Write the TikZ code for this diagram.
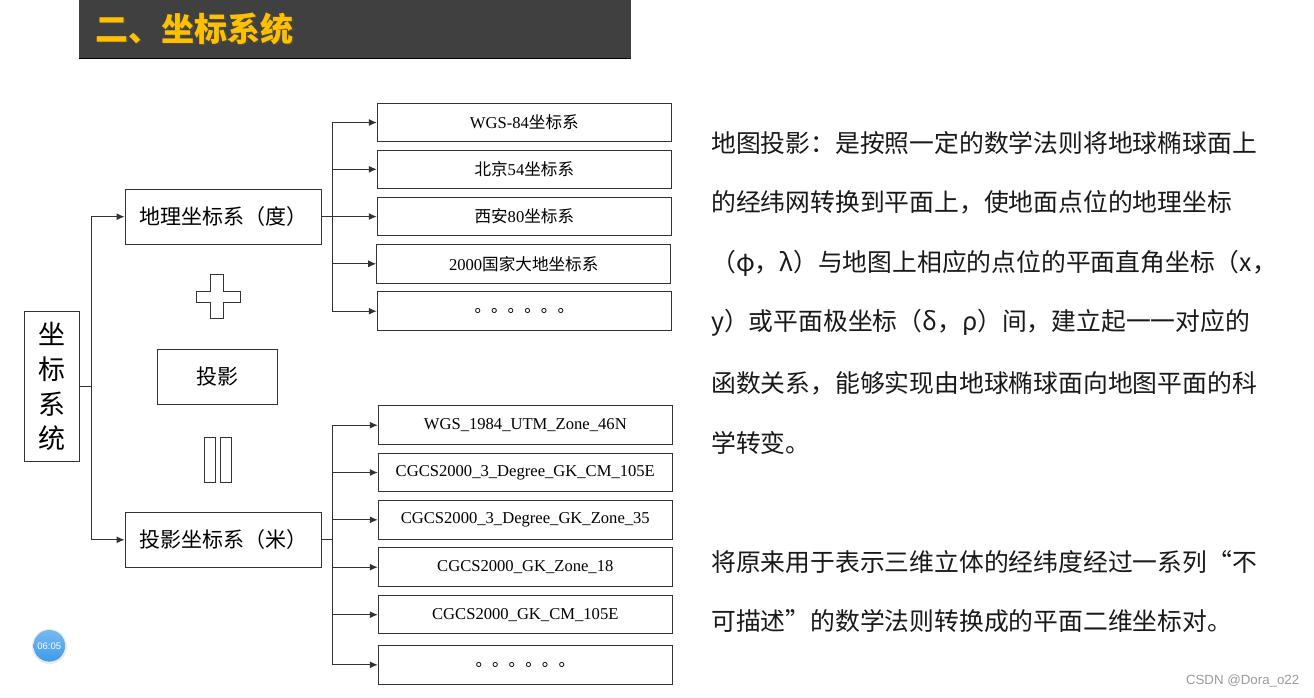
\documentclass[tikz,border=0pt]{standalone}
\usepackage{fontspec}
\setmainfont{Liberation Serif}
\newfontfamily\cjk{Noto Sans CJK SC}
\newfontfamily\lsans{Liberation Sans}
\usetikzlibrary{arrows.meta}
\definecolor{titlebg}{HTML}{404040}
\definecolor{titlefg}{HTML}{FFC000}
\definecolor{linec}{HTML}{333333}
\definecolor{wm}{HTML}{9A9A9A}
\definecolor{badge}{HTML}{3E9BEA}
\tikzset{
  box/.style={draw=linec, line width=1pt, inner sep=0pt, fill=white},
  gbox/.style={box, minimum width=294pt, minimum height=38.5pt, font=\fontsize{16.6}{18}\selectfont},
  midbox/.style={box, minimum width=196pt, minimum height=55pt, font=\cjk\fontsize{21}{23}\selectfont},
  arr/.style={draw=linec, line width=1pt, -{Latex[length=8pt,width=7pt]}},
  ln/.style={draw=linec, line width=1pt},
  para/.style={anchor=west, inner sep=0pt, font=\cjk\fontsize{24.8}{26}\selectfont, text=black!90},
  sym/.style={draw=linec, line width=1pt, fill=white}
}
\newcommand{\zh}[1]{{\cjk #1}}
\begin{document}
\begin{tikzpicture}[x=1pt,y=-1pt]
\useasboundingbox[fill=white] (0,0) rectangle (1314,697);

% title bar
\fill[titlebg] (79,0) rectangle (631,58);
\draw[black, line width=1pt] (79,58) -- (631,58);
\node[anchor=west, inner sep=0pt, text=black!70, font=\cjk\bfseries\fontsize{33}{36}\selectfont] at (96.8,29.8) {二、坐标系统};
\node[anchor=west, inner sep=0pt, text=titlefg, font=\cjk\bfseries\fontsize{33}{36}\selectfont] (title) at (95.5,28.5) {二、坐标系统};

% root box
\node[box, minimum width=55pt, minimum height=150pt, align=center, font=\cjk\fontsize{27}{34.7}\selectfont] (root) at (51.8,386.7) {坐\\标\\系\\统};

% middle boxes
\node[midbox] (geo) at (223,216.7) {地理坐标系（度）};
\node[midbox] (proj) at (223,539.8) {投影坐标系（米）};
\node[box, minimum width=120pt, minimum height=55pt, font=\cjk\fontsize{21}{23}\selectfont] (tou) at (217.7,376.7) {投影};

% plus sign
\draw[sym] (210,274.5) -- (223.3,274.5) -- (223.3,291) -- (240,291) -- (240,302.3) -- (223.3,302.3) -- (223.3,318.8) -- (210,318.8) -- (210,302.3) -- (196,302.3) -- (196,291) -- (210,291) -- cycle;
% equals (vertical)
\draw[sym] (204.3,437.3) rectangle (215,482);
\draw[sym] (220,437.3) rectangle (231.7,482);

% root connectors
\coordinate (j1) at (91.7,386.7);
\draw[ln] (root.east) -- (j1);
\draw[arr] (j1) |- (geo.west);
\draw[arr] (j1) |- (proj.west);

% top boxes
\node[gbox] (g1) at (524.3,122.5) {WGS-84\zh{坐标系}};
\node[gbox] (g2) at (524.3,169.3) {\zh{北京}54\zh{坐标系}};
\node[gbox] (g3) at (524.3,216.6) {\zh{西安}80\zh{坐标系}};
\node[gbox] (g4) at (523.7,263.8) {2000\zh{国家大地坐标系}};
\node[gbox] (g5) at (524.3,311.2) {\zh{。。。。。。}};

\coordinate (j2) at (332.7,216.7);
\draw[ln] (geo.east) -- (j2);
\draw[ln] (332.7,122.5) -- (332.7,311.2);
\foreach \n in {g1,g2,g3,g4,g5} \draw[arr] (j2) |- (\n.west);

% bottom boxes
\node[gbox] (p1) at (525.3,425.2) {WGS\_1984\_UTM\_Zone\_46N};
\node[gbox] (p2) at (525.3,472.5) {CGCS2000\_3\_Degree\_GK\_CM\_105E};
\node[gbox] (p3) at (525.3,519.8) {CGCS2000\_3\_Degree\_GK\_Zone\_35};
\node[gbox] (p4) at (525.3,567.2) {CGCS2000\_GK\_Zone\_18};
\node[gbox] (p5) at (525.3,614.7) {CGCS2000\_GK\_CM\_105E};
\node[gbox] (p6) at (525.3,664.8) {\zh{。。。。。。}};

\coordinate (j3) at (332.7,539.8);
\draw[ln] (proj.east) -- (j3);
\draw[ln] (332.7,425.2) -- (332.7,664.8);
\foreach \n in {p1,p2,p3,p4,p5,p6} \draw[arr] (j3) |- (\n.west);

% right paragraph
\node[para] (t1) at (711,143.3) {地图投影：是按照一定的数学法则将地球椭球面上};
\node[para] (t2) at (711,202.5) {的经纬网转换到平面上，使地面点位的地理坐标};
\node[para] (t3) at (711,263.3) {（φ，λ）与地图上相应的点位的平面直角坐标（x，};
\node[para] (t4) at (711,322.7) {y）或平面极坐标（δ，ρ）间，建立起一一对应的};
\node[para] (t5) at (711,383.3) {函数关系，能够实现由地球椭球面向地图平面的科};
\node[para] (t6) at (711,442.5) {学转变。};
\node[para] (t7) at (711,562) {将原来用于表示三维立体的经纬度经过一系列“不};
\node[para] (t8) at (711,621.5) {可描述”的数学法则转换成的平面二维坐标对。};

% badge
\fill[black!8] (49.5,646.5) circle (17.5pt);
\shade[top color=badge!70, bottom color=badge] (49.3,645.8) circle (15.8pt);
\node[text=white, inner sep=0pt, font=\lsans\fontsize{9.5}{10}\selectfont] (clock) at (49.3,646) {06:05};

% watermark
\node[anchor=east, inner sep=0pt, text=wm, font=\lsans\fontsize{13.3}{14}\selectfont] (wmk) at (1299.5,680.5) {CSDN @Dora\_o22};
\end{tikzpicture}
\end{document}
